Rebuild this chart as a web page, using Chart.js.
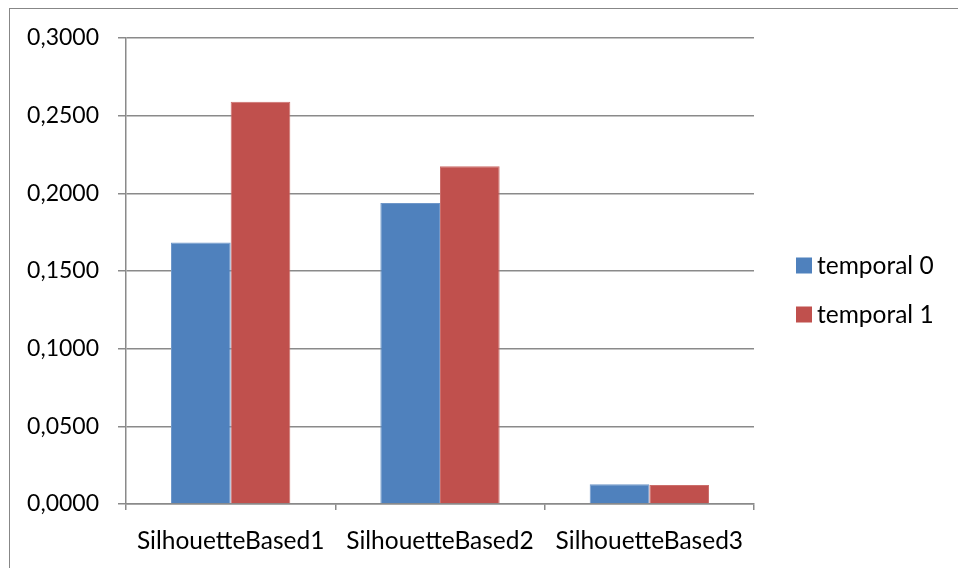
<!DOCTYPE html>
<html>
<head>
<meta charset="utf-8">
<script src="https://cdn.jsdelivr.net/npm/chart.js@4/dist/chart.umd.min.js"></script>
<style>
  html, body { margin: 0; padding: 0; background: #fff; }
  #wrap { position: relative; width: 958px; height: 568px; }
</style>
</head>
<body>
<div id="wrap"><canvas id="c" width="958" height="568"></canvas></div>
<script>
// Categories and series values
const categories = ['SilhouetteBased1', 'SilhouetteBased2', 'SilhouetteBased3'];
const temporal0 = [0.1683, 0.1938, 0.0127];
const temporal1 = [0.2589, 0.2174, 0.0122];
const seriesNames = ['temporal 0', 'temporal 1'];

const FAMILY = 'Lato, "Liberation Sans", sans-serif';
const TICK_FONT_Y = { family: FAMILY, size: 23 };
const TICK_FONT_X = { family: FAMILY, size: 24.5 };
const LEGEND_SIZE = 24.5;
const GRID = '#8a8a8a';

// Outer frame around the chart object
const framePlugin = {
  id: 'frame',
  beforeDraw(chart) {
    const ctx = chart.ctx;
    ctx.save();
    ctx.fillStyle = '#fff';
    ctx.fillRect(0, 0, chart.width, chart.height);
    ctx.strokeStyle = '#878787';
    ctx.lineWidth = 1;
    ctx.strokeRect(9.5, 8.5, 1000, 1000);
    ctx.restore();
  }
};

// Legend to the right of the plot: square swatch followed by the series name
const sideLegend = {
  id: 'sideLegend',
  afterDraw(chart) {
    const ctx = chart.ctx;
    const area = chart.chartArea;
    const x0 = area.right + 42;
    const yMid = 290;
    const step = 49;
    const box = 16;
    ctx.save();
    ctx.font = LEGEND_SIZE + 'px ' + FAMILY;
    ctx.textBaseline = 'middle';
    ctx.textAlign = 'left';
    chart.data.datasets.forEach((ds, i) => {
      const y = yMid + (i - (chart.data.datasets.length - 1) / 2) * step;
      ctx.fillStyle = ds.backgroundColor;
      ctx.fillRect(x0, y - box / 2, box, box);
      ctx.fillStyle = '#000';
      ctx.fillText(ds.label, x0 + box + 5, y + 1);
    });
    ctx.restore();
  }
};

new Chart(document.getElementById('c'), {
  type: 'bar',
  data: {
    labels: categories,
    datasets: [
      { label: seriesNames[0], data: temporal0, backgroundColor: '#4f81bd',
        borderColor: '#6f97c9', borderWidth: 1 },
      { label: seriesNames[1], data: temporal1, backgroundColor: '#c0504d',
        borderColor: '#cc6e6b', borderWidth: 1 }
    ]
  },
  plugins: [framePlugin, sideLegend],
  options: {
    responsive: false,
    animation: false,
    layout: { padding: { left: 10, top: 38, right: 204, bottom: 0 } },
    datasets: { bar: { barPercentage: 1.0, categoryPercentage: 0.57 } },
    plugins: {
      tooltip: { enabled: false },
      legend: { display: false }
    },
    scales: {
      x: {
        grid: { display: true, drawOnChartArea: false, drawTicks: true, tickLength: 6,
                color: GRID, lineWidth: 1.5 },
        border: { display: true, color: GRID, width: 1.5 },
        ticks: { font: TICK_FONT_X, color: '#000', padding: 16, maxRotation: 0 },
        afterFit(scale) { scale.height = 64; }
      },
      y: {
        min: 0, max: 0.3,
        grid: { color: GRID, lineWidth: 1.5, tickLength: 8 },
        border: { display: true, color: GRID, width: 1.5 },
        ticks: {
          stepSize: 0.05, font: TICK_FONT_Y, color: '#000', padding: 19,
          callback: v => v.toFixed(4).replace('.', ',')
        },
        afterFit(scale) { scale.width = 116; }
      }
    }
  }
});
</script>
</body>
</html>
